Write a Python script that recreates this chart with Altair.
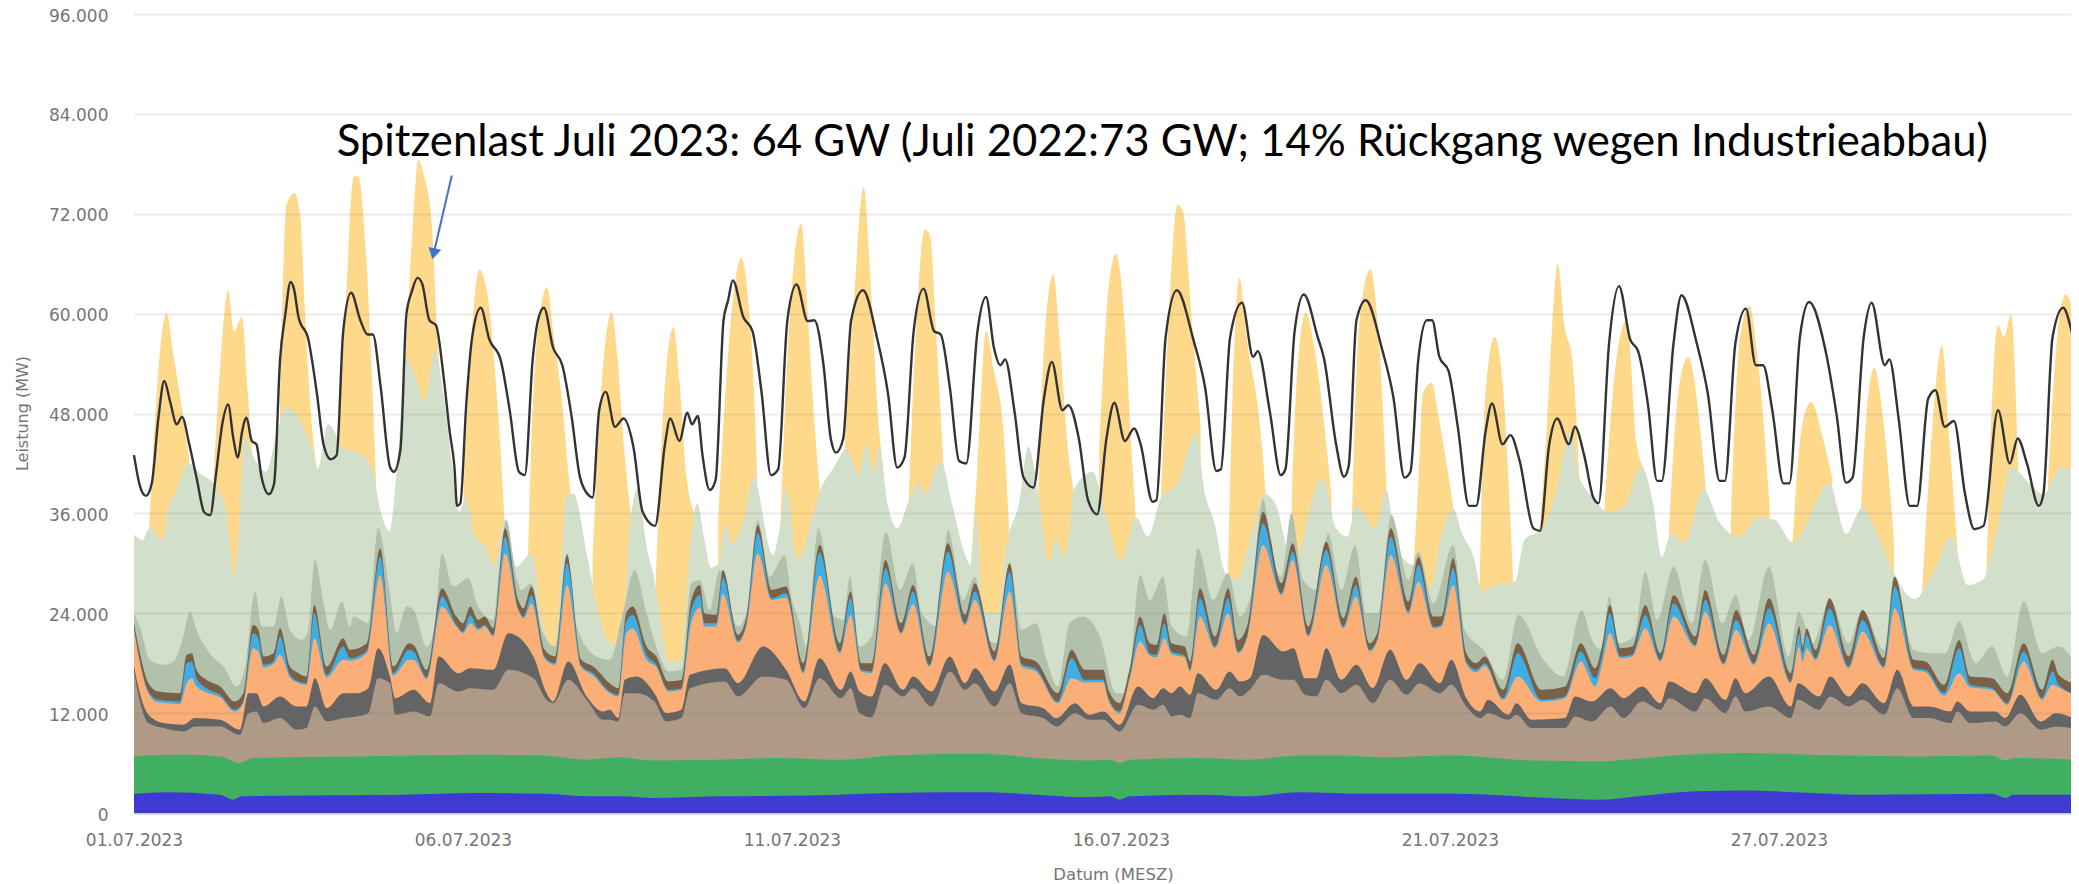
import altair as alt
import pandas as pd

# x = 15-minute sample index since 01.07.2023 00:00, values in GW (converted to MW below)
TICK_SAMPLES = [0, 500, 1000, 1500, 2000, 2500]
Y_TICKS = [0, 12000, 24000, 36000, 48000, 60000, 72000, 84000, 96000]
MAX_SAMPLE = 2944

LOAD = [(0,43),(9,39.3),(18,38.1),(27,39.6),(37,47.4),(46,51.9),(55,49.4),(65,46.7),(73,47.6),(84,44.3),(95,40.3),(107,36.1),(116,35.8),(124,40.3),(135,47.1),(143,49.1),(151,45),(158,42.7),(164,45.7),(171,47.5),(179,44.7),(186,44.3),(194,40.3),(205,38.3),(213,39.6),(222,54.5),(230,59.9),(238,63.8),(243,63),(250,59.6),(265,56.9),(278,50.4),(288,44.3),(299,42.5),(308,43),(318,57.9),(330,62.5),(344,59.2),(355,57.5),(363,57.5),(375,51.1),(389,41.6),(395,41),(405,43.7),(414,59.9),(422,62.6),(431,64.3),(438,63.6),(449,59.2),(459,58.6),(470,52.8),(480,45.7),(487,41.6),(491,36.9),(496,37.2),(505,49.1),(514,57.2),(527,60.7),(540,56.9),(557,54.5),(571,48.4),(585,41),(594,40.6),(606,54.5),(614,59.2),(623,60.7),(637,55.9),(651,53.8),(665,47.7),(678,40.3),(692,38.1),(697,37.9),(707,48.4),(717,50.6),(731,46.4),(744,47.4),(759,44),(773,36.2),(792,34.5),(807,44.3),(815,47.4),(829,44.7),(841,48.1),(848,46.7),(857,47.7),(864,43),(875,38.8),(884,40),(896,59.2),(903,61.6),(910,64),(926,59.6),(940,57.9),(954,50.4),(968,40.6),(979,41.3),(993,59.2),(1007,63.5),(1024,59.1),(1034,59.2),(1048,53.8),(1059,45),(1067,43.3),(1078,45),(1090,59.2),(1108,62.8),(1129,57.2),(1146,50.4),(1160,41.5),(1171,42.7),(1185,57.9),(1200,63),(1216,57.9),(1226,57.5),(1240,51.1),(1254,42.3),(1265,42),(1282,57.9),(1295,62),(1307,55.9),(1317,53.8),(1324,54.5),(1338,48.4),(1352,40.3),(1367,39.1),(1383,49.8),(1395,54.2),(1411,48.4),(1420,49),(1436,45),(1450,37.6),(1464,35.9),(1478,45),(1490,49.3),(1506,44.7),(1520,46.2),(1530,44.3),(1548,37.4),(1554,37.6),(1568,57.2),(1585,62.8),(1610,56.9),(1628,51.1),(1645,41.1),(1652,41.3),(1666,57.2),(1684,61.3),(1701,54.8),(1708,55.5),(1726,48.4),(1743,40.6),(1750,41.3),(1764,57.9),(1778,62.3),(1799,57.2),(1809,54.5),(1827,44.3),(1839,40.4),(1846,41.6),(1858,59.2),(1872,61.6),(1897,55.7),(1914,50),(1931,40.3),(1940,41),(1952,54.5),(1965,59.2),(1973,59.2),(1984,54.8),(1998,53.1),(2012,46.4),(2029,36.9),(2040,36.9),(2054,45.7),(2064,49.2),(2080,44.3),(2092,45.4),(2106,42.3),(2127,34.2),(2137,33.9),(2151,44.3),(2163,47.4),(2181,44.3),(2190,46.4),(2204,43),(2218,37.9),(2226,37.2),(2242,56.5),(2257,63.3),(2274,56.9),(2286,55.5),(2301,49.1),(2315,39.9),(2322,39.9),(2340,56.5),(2352,62.2),(2375,56.5),(2392,50.4),(2410,39.9),(2418,39.9),(2434,56.5),(2450,60.6),(2465,53.8),(2476,53.8),(2490,48.4),(2507,39.6),(2516,39.6),(2532,57.2),(2546,61.4),(2570,55.9),(2588,47.7),(2602,39.7),(2612,40.3),(2629,57.2),(2641,61.3),(2661,53.8),(2668,54.5),(2682,47.4),(2699,36.9),(2710,36.9),(2727,49.8),(2738,50.8),(2752,46.4),(2766,47.1),(2783,38.3),(2797,34.1),(2811,34.5),(2833,48.4),(2851,42),(2863,45),(2877,42),(2895,36.9),(2902,38.3),(2916,57.2),(2932,60.7),(2950,56.5),(2956,55.2)]

SOLAR_DAYS = [
 [(23,34.2),(40,55.9),(49,60.1),(61,54.5),(72,49.1),(84,42.3)],
 [(121,40.3),(133,55.9),(143,62.8),(152,57.9),(164,59.6),(173,50.4),(179,43.7)],
 [(222,50.4),(232,73.1),(244,74.5),(253,71.4),(260,59.9),(274,43.7),(279,41)],
 [(309,43.7),(321,59.9),(334,76.5),(341,76.5),(352,68),(359,57.2),(368,39.6)],
 [(410,50.4),(424,70.8),(432,78.5),(441,76.5),(452,71.4),(462,55.9),(470,50.4)],
 [(501,38.9),(512,55.9),(525,65.3),(539,61.3),(550,51.8),(561,38.3),(564,33.5)],
 [(599,31.5),(610,54.5),(628,63.2),(637,57.9),(651,49.1),(661,40.3),(665,37.6)],
 [(697,30.8),(711,51.8),(726,60.1),(735,54.5),(745,43.7),(756,35.5)],
 [(793,28.1),(805,49.1),(820,58.4),(829,51.8),(840,40.3),(851,36.2)],
 [(888,35.5),(903,55.2),(923,66.7),(933,62),(944,47.7),(947,40.3)],
 [(982,33.5),(993,54.5),(1014,70.8),(1024,59.9),(1034,47),(1043,38.3)],
 [(1080,43.7),(1094,61.3),(1109,75.2),(1120,63.3),(1132,46.4),(1139,41.6)],
 [(1178,38.3),(1188,57.2),(1202,70.1),(1210,69.4),(1219,57.9),(1230,42.3)],
 [(1272,30.1),(1282,41.6),(1295,57.9),(1307,53.1),(1321,46.4),(1331,32.8),(1335,26.7)],
 [(1373,34.9),(1383,55.9),(1397,64.7),(1408,55.9),(1418,45),(1429,38.3)],
 [(1467,43.7),(1478,59.9),(1492,67.2),(1506,58.6),(1516,43.7),(1523,34.9)],
 [(1561,38.3),(1572,58.6),(1586,73.1),(1594,72.4),(1607,59.9),(1621,46.4)],
 [(1663,30.1),(1670,51.1),(1680,64.3),(1691,57.2),(1715,43.7),(1720,38.3)],
 [(1757,30.1),(1767,51.8),(1781,60.1),(1794,55.9),(1813,43.7),(1820,38.3)],
 [(1851,34.9),(1862,58.6),(1879,65.3),(1893,55.9),(1903,40.3)],
 [(1945,30.1),(1952,39.6),(1959,50.4),(1972,51.7),(1984,47.1),(2005,36.9)],
 [(2045,26.7),(2054,50.4),(2068,57.2),(2080,51.8),(2096,28.1)],
 [(2137,34.2),(2148,47.1),(2164,66),(2174,58.6),(2186,54.5),(2197,40.3)],
 [(2235,36.9),(2253,54.5),(2269,59.2),(2284,44.3),(2294,41.6)],
 [(2333,34.2),(2347,50.4),(2362,54.8),(2382,45),(2389,38.9)],
 [(2427,34.9),(2441,57.2),(2455,60.9),(2469,53.8),(2486,36.9)],
 [(2521,32.8),(2535,46.4),(2549,49.4),(2567,45),(2581,40.3)],
 [(2623,33.5),(2633,47.7),(2645,53.5),(2657,48.4),(2675,32.8)],
 [(2717,25.7),(2731,43.7),(2748,56.2),(2759,45),(2773,30.1)],
 [(2815,27.4),(2833,58.6),(2842,57.2),(2853,59.9),(2865,40.3),(2870,30)],
 [(2909,39.6),(2923,57.2),(2936,62.3),(2956,57.2)],
]

WIND_ONSHORE_TOP = [(0,33.5),(13,32.8),(23,34.2),(44,32.8),(51,36.2),(65,38.9),(82,42),(103,40.6),(121,39.6),(138,36.9),(145,32.8),(152,28.4),(159,33.5),(168,45),(180,43),(201,41),(215,45),(232,48.7),(257,46.4),(271,43.7),(279,41.3),(295,46.7),(320,43.7),(341,43.3),(362,41.3),(375,36.2),(388,33.9),(400,41.6),(414,54.5),(424,53.1),(442,49.4),(456,55.5),(470,50.4),(484,41.6),(494,36.2),(505,37.9),(516,33.6),(536,31.8),(547,29.7),(564,35.3),(581,29.6),(604,31.2),(622,22.4),(640,20),(658,38.2),(668,38.4),(688,31.2),(711,22.4),(723,20.4),(738,20.4),(746,24),(753,34),(766,39),(779,32),(791,28),(799,24),(812,18.2),(832,18.4),(845,32),(856,37.2),(867,32.8),(877,29.5),(890,30),(898,34.8),(910,32.4),(931,36.8),(941,40.5),(971,31),(981,34),(991,39),(1007,30.8),(1012,30.8),(1032,36),(1047,39.5),(1062,41.3),(1083,43.7),(1101,40.6),(1113,44.3),(1125,41),(1132,44),(1146,36.9),(1160,34.2),(1178,37.6),(1192,39.6),(1202,38.3),(1226,42.3),(1244,36.9),(1261,31.5),(1272,29.8),(1280,36),(1290,24.4),(1313,24),(1326,32),(1346,37.6),(1359,44),(1377,36.9),(1390,30.1),(1401,33),(1415,30.8),(1429,38.9),(1457,41),(1474,36.9),(1499,30.1),(1523,35.5),(1541,33.2),(1561,37.9),(1586,39.6),(1614,45.7),(1628,38.3),(1642,34.9),(1659,28.8),(1677,28.1),(1698,33.5),(1719,38.3),(1736,36.9),(1757,31.1),(1767,30.8),(1788,36.9),(1806,40.3),(1827,34.2),(1844,33.2),(1858,36.9),(1886,34.2),(1903,38.9),(1917,32.8),(1935,30.1),(1952,29.5),(1970,27),(1987,33.5),(2005,36.6),(2019,33.5),(2036,30.8),(2049,26.7),(2071,27.4),(2099,27.8),(2113,32.8),(2141,34.2),(2162,38.9),(2183,45.7),(2197,40.3),(2218,37.9),(2239,36.2),(2263,36.6),(2291,41.6),(2308,37.6),(2322,30.8),(2336,33.5),(2357,32.5),(2385,38.9),(2410,34.9),(2441,33.2),(2469,35.5),(2494,35.2),(2521,32.5),(2577,39.6),(2602,33.5),(2626,36.6),(2650,33.5),(2675,28.8),(2706,25.7),(2734,28.8),(2762,33.2),(2787,27.4),(2811,28.1),(2832,34.2),(2853,41.6),(2881,39.6),(2902,38.3),(2930,41.6),(2956,40.3)]

WIND_OFFSHORE_TOP = [(0,24),(9,22.4),(24,18.4),(45,17.8),(60,18.2),(75,21.2),(85,24.2),(95,22),(115,19.2),(136,17.6),(156,15.2),(169,17.6),(184,26.6),(194,22.4),(212,22.4),(224,26),(237,22),(255,20.8),(265,22),(275,30.4),(288,25.2),(298,22),(316,25.4),(328,22.4),(333,23.6),(356,22.8),(371,34.2),(389,26.4),(399,21.6),(414,24.8),(425,24.4),(445,20),(457,22.4),(468,31.2),(485,27.2),(508,28.2),(523,24.8),(546,23.2),(556,30),(566,35.2),(581,28.4),(589,26.8),(604,27.6),(620,22),(640,20),(658,31.2),(673,22.4),(703,18.8),(723,18.4),(743,24),(761,29.2),(779,24),(799,18.8),(812,17),(832,17.2),(847,27.6),(860,28),(875,24.4),(890,29.2),(918,22.4),(931,24),(948,35.2),(966,28.4),(989,31),(999,26),(1012,22.8),(1022,20),(1040,34.2),(1065,23.6),(1078,23.2),(1088,28.4),(1103,20),(1121,21.2),(1143,33.8),(1164,26.8),(1184,30),(1197,24),(1222,22.4),(1237,34),(1260,25.6),(1278,28.4),(1295,21),(1313,20.4),(1331,30),(1349,22),(1371,22.8),(1387,18.4),(1404,15.2),(1422,22.8),(1442,23.6),(1468,21.2),(1493,14.4),(1509,14.4),(1529,28.6),(1544,25.6),(1564,28.4),(1577,22.4),(1600,21.2),(1617,31.8),(1640,25.6),(1663,28.8),(1681,23.6),(1698,26.4),(1716,37.8),(1731,30.4),(1744,28.4),(1759,36),(1777,28),(1797,26.8),(1815,33.6),(1835,26.8),(1856,32.2),(1873,24),(1891,24),(1911,35.8),(1937,28),(1952,31.4),(1975,25.2),(2005,32.2),(2023,22),(2051,19.6),(2081,16),(2104,23.8),(2142,18.4),(2172,16.4),(2200,24.4),(2216,20.8),(2231,19.6),(2242,26),(2257,20.4),(2280,21.2),(2297,29),(2315,23.2),(2340,29.6),(2368,22.8),(2388,30.4),(2414,22.8),(2434,26.2),(2454,20.8),(2485,29.6),(2515,18.8),(2530,24.2),(2551,20.4),(2578,25.6),(2606,20.4),(2627,24.4),(2660,19.6),(2675,28.4),(2705,19.6),(2728,19.2),(2753,19.2),(2774,23),(2799,18),(2824,20),(2847,16.4),(2872,25.4),(2900,19.2),(2925,20),(2956,17.2)]

# sample, top of the brown band, thickness of the blue band, thickness of the brown band
GAS_STACK = [(0,22.8,.2,.6),(9,19.2,.2,1),(22,15.6,.2,1),(37,14.6,.3,1),(70,14.4,.3,1),(80,19,2.4,1),(88,19.2,2,1),(95,17.2,1,1),(110,16,.5,1),(131,15.2,.3,1),(153,13.4,.2,1),(166,14.4,.2,1),(181,22.6,1.8,1),(189,22,1.6,1),(197,18.8,.3,1),(212,19.2,.3,1),(222,22.2,2.2,1),(237,17.6,.3,1),(250,16.8,.2,1),(262,16.4,.2,.8),(274,25,3,1),(293,17.6,.3,1),(318,21,1.6,1),(328,19.6,.3,1),(354,20.4,.3,.9),(374,31.8,2.2,1),(394,17.6,.3,.8),(418,20.4,1.2,.8),(425,20.2,1,.8),(445,17.2,.2,.9),(468,27,1.2,1),(490,23.6,.2,1),(500,22.8,.2,1),(511,24.8,1,1),(523,23.2,.2,1),(533,23.6,.2,1),(546,22.2,.2,.8),(564,34.2,2,1),(584,25.6,.2,1),(592,24.6,.2,1),(604,27.2,1,1),(624,19.6,.2,.8),(640,18.8,.2,.8),(658,31,2.6,1),(680,18.4,.2,.7),(698,17.6,.3,.8),(723,15.6,.2,1),(736,15,.2,.8),(748,24,1.5,1),(758,24.8,1.6,1),(779,20,.6,1),(794,18.8,.3,1),(812,15.8,.2,1),(832,16,.2,1),(847,25.6,1.5,1.2),(860,27.4,1.5,1.2),(867,24,.4,1.2),(885,23.8,.4,1),(895,29.2,2,.9),(918,21.4,.2,.7),(931,23.6,.2,.8),(948,34.6,2.4,1),(969,26.8,.2,1),(991,27.2,.5,.8),(1017,18,.2,1),(1042,32.2,2.8,.9),(1073,20.4,.2,1),(1089,26.6,2,.8),(1105,18,.2,.8),(1121,18,.2,1),(1142,30.4,1.8,1),(1166,22.8,.2,1.1),(1184,27.4,1.5,.8),(1209,18.8,.2,1),(1237,32.4,2.4,1),(1263,23.8,.2,1),(1278,27.6,1,1),(1308,19.4,.2,1),(1331,30,2.4,1),(1349,18.8,.3,.9),(1371,18.2,.3,.9),(1404,14.4,.2,1),(1425,19.6,2.4,1),(1445,17.2,.3,1.2),(1473,17.2,.3,1.2),(1481,14.8,.3,1),(1498,13.2,.2,1),(1514,17.6,.3,1),(1529,23.6,2,1),(1544,20.4,.3,1.2),(1554,20.2,.3,1.2),(1566,24,1.8,1.2),(1577,20.4,.3,1),(1597,20,.2,1.1),(1605,18.2,.2,1),(1620,27,2.2,1.2),(1643,21.2,.2,1.2),(1663,27,1.8,1.2),(1678,20.8,.2,1.4),(1693,22.8,.2,1.2),(1716,36.2,2.6,1.4),(1744,27.6,.2,1.2),(1761,32.4,1,1),(1785,22.4,.2,1),(1812,32.6,1.8,1),(1838,23.4,.2,1),(1857,28.4,1.4,1),(1878,20.4,.2,.8),(1891,22,.2,.8),(1910,34.2,2.2,1),(1937,25.4,.2,1.2),(1952,30.8,2,1),(1975,23.6,.2,1.2),(1987,23.6,.2,1),(2005,30.6,2,1.2),(2025,19.2,.3,1),(2040,18,.3,.8),(2053,18.8,.3,.8),(2081,14.8,.2,1),(2103,20.4,2.8,1.2),(2139,14.8,.2,1.2),(2175,15.2,.2,1.2),(2199,20.4,1.2,1),(2221,17.4,1,1.2),(2231,20,1,1.2),(2243,25,2.4,1),(2259,19.8,.2,1),(2277,20,.2,1),(2297,25,1.6,1.2),(2320,19.2,.2,.8),(2340,26.2,1.6,1),(2373,21.2,.2,1),(2388,26.8,1.4,1.2),(2416,19,.2,1),(2435,24.4,1.2,1.2),(2462,19,.2,1),(2485,25.8,1.8,1.2),(2518,16.8,.2,1),(2531,22.4,1.6,.8),(2536,20,1,.8),(2542,22.2,1.6,.8),(2556,19.6,.2,1),(2577,25.8,2,1.2),(2606,18.8,.2,1.2),(2627,24.4,1.4,1.2),(2660,18.6,.2,1),(2676,28.4,2.6,1.2),(2705,18.4,.2,1),(2723,18.2,.3,1),(2751,15.4,.3,1),(2774,20.8,3,1),(2791,16.4,.3,1),(2824,16.2,.2,1.2),(2847,14.4,.2,1.2),(2872,20.4,1.2,1),(2900,14.8,.2,1),(2916,18.4,1.6,1.4),(2925,16.6,.3,1.2),(2951,15.6,.2,1.2),(2956,17.2,.2,1.2)]

# sample, top of the dark grey band, top of the tan band
COAL_STACK = [(0,17.6,17),(9,14.4,13.4),(22,11.8,10.8),(45,10.8,10.2),(75,10.6,9.8),(93,11.4,10.4),(131,11.2,10.4),(161,10,9.4),(174,14.4,12),(186,14.4,12.2),(197,12.8,10.8),(222,14,11.4),(247,12.8,10),(262,12.8,10.2),(275,16.2,12.8),(293,12.6,11),(318,14.4,11.4),(338,14.4,11.6),(356,15,12),(371,19.8,16.2),(389,16.4,15.6),(397,13.8,11.8),(425,14.8,12.2),(450,13.2,11.6),(463,18.8,15.6),(493,16.8,14.6),(511,17.4,15),(546,17.2,14.8),(569,21.6,17.2),(607,18.8,16.2),(627,14.4,13.6),(637,13.4,13.2),(660,18.2,16),(688,14,13.6),(713,12.2,11.2),(723,12.4,11.2),(736,11.4,11),(746,16,14.4),(764,16.4,14.4),(791,14.4,13.4),(809,12,11),(832,12.4,11.4),(845,16.6,15),(898,17.4,15.8),(918,15.6,14),(956,20,16.4),(991,17.2,16),(1019,13.4,12.6),(1042,18.6,16.2),(1075,14.8,13.8),(1089,17,15),(1103,14.6,12),(1121,14,11.5),(1141,18,15.4),(1169,14.8,14),(1184,16.4,15),(1212,14.6,12.8),(1240,18.8,17),(1263,15.6,14.8),(1278,17.4,15.6),(1308,14.6,12.8),(1331,17.8,15.6),(1349,13.2,12),(1382,12.6,11.4),(1402,11.4,10.4),(1430,13.2,12),(1452,11.8,11.2),(1473,12.2,11.2),(1498,10.6,9.8),(1526,15.2,13),(1549,13.8,12.4),(1564,15,13),(1577,14.4,11.6),(1590,15.2,11.8),(1605,14.2,11.4),(1617,16.8,14.4),(1645,14.8,13.6),(1665,17,15),(1681,15.8,14),(1696,16.2,14.8),(1716,21.4,16.6),(1747,19.4,16),(1762,19.8,16),(1780,16.2,14.2),(1797,16.2,14),(1812,19.8,16),(1835,16,14.4),(1858,17.8,15.4),(1883,15,13.2),(1909,19.6,16),(1934,16,14.2),(1954,18,15.6),(1985,15.6,14.4),(2002,18.4,15.4),(2025,13.8,12.8),(2046,12.2,11.4),(2058,13.6,12),(2089,11.8,11.2),(2101,13.2,11.8),(2124,11.2,10.2),(2175,11.4,10.2),(2190,14,11.6),(2216,13.4,11),(2244,15,12.8),(2264,13.8,11.4),(2292,15.2,13.4),(2320,13.2,12.4),(2333,15.8,13.8),(2373,14.4,12.2),(2388,16.2,13.8),(2419,13.6,12),(2434,16.2,14),(2449,14.4,12.2),(2485,16.4,12.8),(2518,12.8,11.4),(2529,15.6,13.6),(2561,14,12.4),(2578,16.4,14),(2606,14,12.8),(2627,15.6,13.6),(2660,13.2,11.8),(2680,17.2,15),(2705,12.8,11.4),(2728,12.8,11.4),(2761,12.2,10.8),(2771,13.4,12.2),(2791,12.2,10.8),(2829,12.2,11),(2844,11.4,10.4),(2867,14.2,12),(2898,11,10),(2921,12,10.4),(2956,11,10)]

BIOMASS_TOP = [(0,6.8),(50,7),(85,7),(131,6.8),(161,6),(181,6.6),(333,6.8),(430,6.9),(526,7),(622,6.9),(688,6.4),(738,6.7),(789,6.3),(885,6.4),(976,6.6),(1073,6.4),(1154,6.9),(1245,7.1),(1295,7.1),(1371,6.6),(1447,6.3),(1483,6.4),(1498,6),(1514,6.4),(1620,6.6),(1691,6.4),(1772,6.9),(1823,6.9),(1899,6.7),(2005,6.9),(2127,6.3),(2228,6.2),(2297,6.6),(2358,7),(2449,7.2),(2510,7.1),(2591,6.9),(2703,6.8),(2824,6.9),(2845,6.3),(2855,6.6),(2956,6.4)]

HYDRO_TOP = [(0,2.3),(50,2.5),(131,2.2),(151,1.6),(164,2),(262,2.1),(409,2.2),(516,2.4),(627,2.3),(688,2),(738,2),(789,1.8),(885,2),(1027,2.1),(1154,2.4),(1230,2.5),(1295,2.5),(1371,2.2),(1447,1.9),(1483,2),(1498,1.6),(1514,2),(1620,2.2),(1691,2),(1772,2.5),(1873,2.3),(2005,2.3),(2127,1.9),(2228,1.6),(2297,2.1),(2373,2.6),(2449,2.7),(2525,2.5),(2627,2.2),(2824,2.3),(2845,1.8),(2855,2.2),(2956,2.2)]

ANNOTATION = "Spitzenlast Juli 2023: 64 GW (Juli 2022:73 GW; 14% Rückgang wegen Industrieabbau)"
ANNOTATION_AT = (308, 80500)
ARROW_FROM = (483, 76600)
ARROW_TO = (456, 67400)

C_SOLAR, C_ONSHORE, C_OFFSHORE = "#FFD98B", "#D2E0CB", "#B2C1AC"
C_BROWN, C_BLUE, C_ORANGE = "#7A6046", "#3FAEE5", "#FBAE75"
C_GREY, C_TAN, C_GREEN, C_INDIGO = "#646464", "#AE9A87", "#41AF62", "#3F3BD2"
TEXT_GREY = "#757575"

def frame(pairs):
    return pd.DataFrame({"s": [p[0] for p in pairs], "mw": [p[1] * 1000 for p in pairs]})

x_scale = alt.Scale(domain=[0, MAX_SAMPLE], nice=False, zero=False)
y_scale = alt.Scale(domain=[0, 96000], nice=False)

x_axis = alt.Axis(
    values=TICK_SAMPLES, title="Datum (MESZ)", grid=False, ticks=False,
    labelExpr="timeFormat(time(datetime(2023,6,1)) + datum.value*900000, '%d.%m.%Y')",
    labelFont="DejaVu Sans", labelFontSize=17, labelColor=TEXT_GREY, labelPadding=19,
    titleFont="DejaVu Sans", titleFontSize=16.5, titleFontWeight="normal", titleColor=TEXT_GREY,
    titleX=979, titleY=53, domainColor="#ccd6eb", domainWidth=2, labelFlush=False,
)
y_axis = alt.Axis(
    values=Y_TICKS, title="Leistung (MW)", ticks=False, domain=False, zindex=1,
    labelExpr="replace(format(datum.value, ','), ',', '.')",
    labelFont="DejaVu Sans", labelFontSize=17, labelColor=TEXT_GREY, labelPadding=26, labelOffset=2,
    titleFont="DejaVu Sans", titleFontSize=16, titleFontWeight="normal", titleColor=TEXT_GREY,
    titleX=-104, titleY=399, gridColor="rgba(120,120,120,0.14)", gridWidth=2,
)
X = alt.X("s:Q", scale=x_scale, axis=x_axis)
Y = alt.Y("mw:Q", scale=y_scale, axis=y_axis, stack=None)

def area(pairs, color):
    return alt.Chart(frame(pairs)).mark_area(color=color, opacity=1, interpolate="monotone").encode(x=X, y=Y)

solar_df = pd.concat(
    [frame(day).assign(day=i) for i, day in enumerate(SOLAR_DAYS)], ignore_index=True
)
solar = alt.Chart(solar_df).mark_area(color=C_SOLAR, interpolate="monotone").encode(
    x=X, y=Y, detail="day:N",
)

brown = [(r[0], r[1]) for r in GAS_STACK]
blue = [(r[0], r[1] - r[3]) for r in GAS_STACK]
orange = [(r[0], r[1] - r[3] - r[2]) for r in GAS_STACK]
grey = [(r[0], r[1]) for r in COAL_STACK]
tan = [(r[0], r[2]) for r in COAL_STACK]

load_line = alt.Chart(frame(LOAD)).mark_line(color="#333333", strokeWidth=2.4, interpolate="monotone").encode(x=X, y=Y)

label = alt.Chart(pd.DataFrame({"s": [ANNOTATION_AT[0]], "mw": [ANNOTATION_AT[1]], "t": [ANNOTATION]})).mark_text(
    align="left", baseline="middle", font="Lato", fontSize=43.7, color="#000000"
).encode(x=X, y=Y, text="t:N")

arrow_shaft = alt.Chart(pd.DataFrame({
    "s": [ARROW_FROM[0]], "s2": [ARROW_TO[0]], "mw": [ARROW_FROM[1]], "mw2": [ARROW_TO[1]]
})).mark_rule(color="#4472C4", strokeWidth=2).encode(x=X, x2="s2:Q", y=Y, y2="mw2:Q")
arrow_head = alt.Chart(pd.DataFrame({"s": [ARROW_TO[0]], "mw": [ARROW_TO[1]]})).mark_point(
    shape="triangle", filled=True, color="#4472C4", opacity=1, size=170, angle=193
).encode(x=X, y=Y)

chart = alt.layer(
    solar,
    area(WIND_ONSHORE_TOP, C_ONSHORE),
    area(WIND_OFFSHORE_TOP, C_OFFSHORE),
    area(brown, C_BROWN),
    area(blue, C_BLUE),
    area(orange, C_ORANGE),
    area(grey, C_GREY),
    area(tan, C_TAN),
    area(BIOMASS_TOP, C_GREEN),
    area(HYDRO_TOP, C_INDIGO),
    load_line,
    label,
    arrow_shaft,
    arrow_head,
).properties(
    width=1937, height=799, background="white",
    autosize=alt.AutoSizeParams(type="none"),
    padding={"left": 126, "top": 6, "right": 0, "bottom": 70},
).configure_view(stroke=None)

chart.save("out.html", embed_options={"renderer": "svg", "actions": False})
